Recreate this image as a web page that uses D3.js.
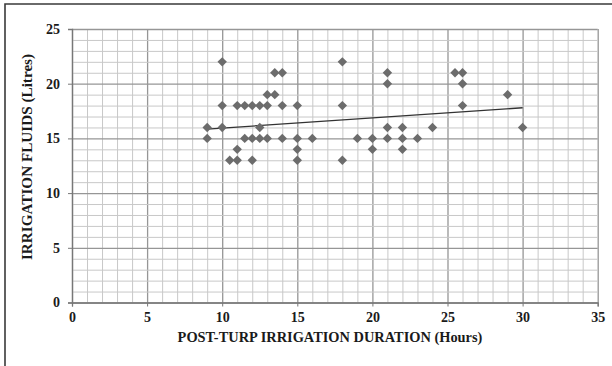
<!DOCTYPE html>
<html>
<head>
<meta charset="utf-8">
<script src="https://cdn.jsdelivr.net/npm/d3@7"></script>
<style>
  html, body { margin: 0; padding: 0; background: #fff; }
  svg text { font-family: "Liberation Serif", "Times New Roman", serif; font-weight: bold; fill: #1a1a1a; }
</style>
</head>
<body>
<script>
// post-TURP irrigation duration (hours) and irrigation fluid (litres), one entry per patient
var durationHours = [9, 9, 10, 10, 10, 10.5, 11, 11, 11, 11.5, 11.5, 12, 12, 12, 12.5, 12.5, 12.5,
    13, 13, 13, 13.5, 13.5, 14, 14, 14, 15, 15, 15, 15, 16, 18, 18, 18, 19, 20, 20,
    21, 21, 21, 21, 22, 22, 22, 23, 24, 25.5, 26, 26, 26, 29, 30];
var fluidLitres = [16, 15, 22, 18, 16, 13, 18, 14, 13, 18, 15, 18, 15, 13, 18, 16, 15,
    19, 18, 15, 21, 19, 21, 18, 15, 18, 15, 14, 13, 15, 22, 18, 13, 15, 15, 14,
    21, 20, 16, 15, 16, 15, 14, 15, 16, 21, 21, 20, 18, 19, 16];
// linear trend line, ends
var trendX = [9, 30];
var trendY = [15.85, 17.8];
var xTicks = [0, 5, 10, 15, 20, 25, 30, 35];
var yTicks = [0, 5, 10, 15, 20, 25];

var width = 612,
    height = 366;
var plotLeft = 72, plotRight = 597.7, plotTop = 29, plotBottom = 302.5;

var svg = d3.select('body')
    .append('svg')
    .attr('width', width)
    .attr('height', height);

svg.append('rect')
    .attr('width', width)
    .attr('height', height)
    .style('fill', '#fff');

// frame round the figure (only top and left edge are visible)
svg.append('path')
    .attr('d', 'M 5 ' + height + ' L 5 4 L ' + width + ' 4')
    .style('fill', 'none')
    .style('stroke', '#3a3a3a')
    .style('stroke-width', '1.6px');

var x = d3.scaleLinear().domain([0, 35]).range([plotLeft, plotRight]);
var y = d3.scaleLinear().domain([0, 25]).range([plotBottom, plotTop]);

//minor and major grid lines, one per unit
var xGrid = svg.append('g')
    .attr('transform', 'translate(0,' + plotBottom + ')')
    .call(d3.axisBottom(x).ticks(35).tickSize(-(plotBottom - plotTop)).tickFormat(''));
var yGrid = svg.append('g')
    .attr('transform', 'translate(' + plotLeft + ',0)')
    .call(d3.axisLeft(y).ticks(25).tickSize(-(plotRight - plotLeft)).tickFormat(''));
[xGrid, yGrid].forEach(function (g) {
    g.select('.domain').remove();
    g.selectAll('.tick line')
        .style('stroke', function (d) { return d % 5 === 0 ? '#969696' : '#c8c8c8'; })
        .style('stroke-width', function (d) { return d % 5 === 0 ? '1.3px' : '1px'; });
});

//axes with labels
var xAxis = svg.append('g')
    .attr('transform', 'translate(0,' + plotBottom + ')')
    .call(d3.axisBottom(x).tickValues(xTicks).tickSize(4).tickPadding(6));
var yAxis = svg.append('g')
    .attr('transform', 'translate(' + plotLeft + ',0)')
    .call(d3.axisLeft(y).tickValues(yTicks).tickSize(4).tickPadding(8));
[xAxis, yAxis].forEach(function (g) {
    g.select('.domain').style('stroke', '#777').style('stroke-width', '1.3px');
    g.selectAll('.tick line').style('stroke', '#777');
    g.selectAll('.tick text')
        .style('font-family', '"Liberation Serif", serif')
        .style('font-weight', 'bold')
        .style('font-size', '14px')
        .style('fill', '#1a1a1a');
});

//trend line
svg.append('line')
    .attr('x1', x(trendX[0]))
    .attr('y1', y(trendY[0]))
    .attr('x2', x(trendX[1]))
    .attr('y2', y(trendY[1]))
    .style('stroke', '#333')
    .style('stroke-width', '1.3px');

//diamond markers
var diamond = d3.symbol().type(d3.symbolSquare).size(44);
svg.append('g')
    .selectAll('path')
    .data(durationHours)
    .enter()
    .append('path')
    .attr('d', diamond)
    .attr('transform', function (d, i) {
        return 'translate(' + x(d) + ',' + y(fluidLitres[i]) + ') rotate(45)';
    })
    .style('fill', '#6c6c6c');

//axis titles
svg.append('text')
    .attr('x', 330)
    .attr('y', 342)
    .attr('text-anchor', 'middle')
    .style('font-size', '14.4px')
    .text('POST-TURP IRRIGATION DURATION (Hours)');

svg.append('text')
    .attr('transform', 'translate(32,' + 157 + ') rotate(-90)')
    .attr('text-anchor', 'middle')
    .style('font-size', '15.2px')
    .text('IRRIGATION FLUIDS (Litres)');
</script>
</body>
</html>
